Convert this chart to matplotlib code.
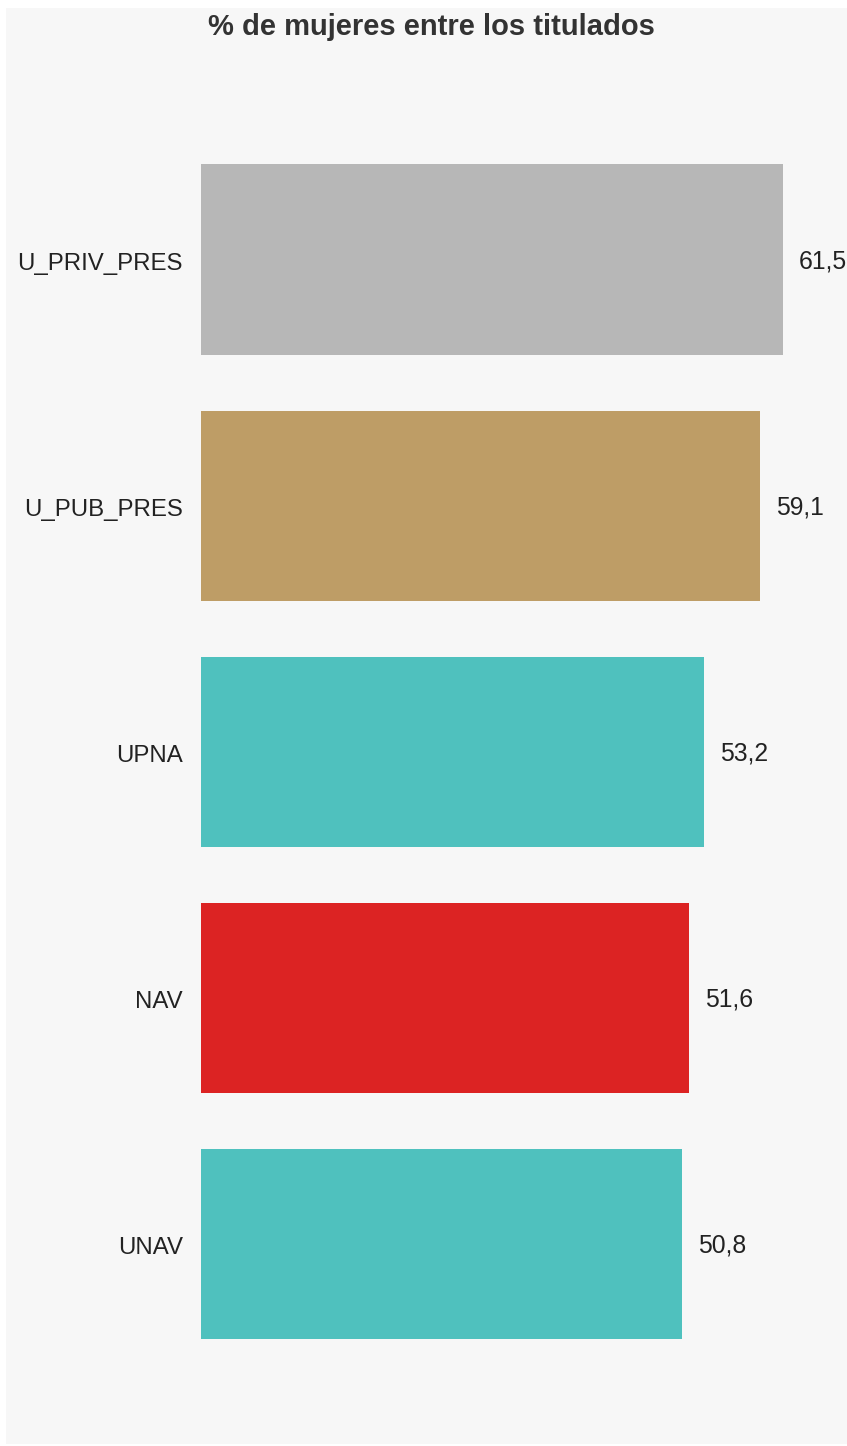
import matplotlib
matplotlib.use("Agg")
import matplotlib.pyplot as plt
from matplotlib.patches import Rectangle
import matplotlib.transforms as mtransforms

categories = ["U_PRIV_PRES", "U_PUB_PRES", "UPNA", "NAV", "UNAV"]
values = [61.5, 59.1, 53.2, 51.6, 50.8]
value_labels = ["61,5", "59,1", "53,2", "51,6", "50,8"]
colors = ["#b7b7b7", "#be9d66", "#4fc1be", "#dc2323", "#4fc1be"]
title = "% de mujeres entre los titulados"

plt.rcParams['font.family'] = ['Liberation Sans', 'DejaVu Sans']

W, H = 847, 1446
fig = plt.figure(figsize=(W / 100, H / 100), dpi=100)
fig.patch.set_facecolor("white")
fig.patches.append(Rectangle((6 / W, 1 - 1444 / H), (W - 6) / W, (1444 - 8) / H,
                             transform=fig.transFigure, facecolor="#f7f7f7",
                             edgecolor="none", zorder=-10))

ax_left, ax_right = 201, 847
ax_top, ax_bot = 136.5, 1366.5
ax = fig.add_axes([ax_left / W, 1 - ax_bot / H, (ax_right - ax_left) / W, (ax_bot - ax_top) / H])
ax.set_facecolor("none")
ax.set_zorder(5)

n = len(categories)
ypos = list(range(n))[::-1]
ax.barh(ypos, values, height=190 / 246, color=colors, edgecolor="none")
ax.set_ylim(-0.5, n - 0.5)
ax.set_xlim(0, (ax_right - ax_left) / ((783 - 201) / 61.5))
ax.set_yticks(ypos)
ax.set_yticklabels(categories, fontsize=17.3, color="#222222")
ax.tick_params(axis="y", length=0, pad=13)
shift = mtransforms.ScaledTranslation(0, -2 / 100, fig.dpi_scale_trans)
for t in ax.get_yticklabels():
    t.set_transform(t.get_transform() + shift)
ax.set_xticks([])
for s in ax.spines.values():
    s.set_visible(False)

for y, v, lab in zip(ypos, values, value_labels):
    ax.annotate(lab, (v, y), xytext=(11.5, -1.5), textcoords="offset points",
                ha="left", va="center", fontsize=17.8, color="#222222")

fig.text(431.5 / W, 1 - 27 / H, title, ha="center", va="center",
         fontsize=21, fontweight="bold", color="#333333", zorder=6)

fig.savefig("out.png", dpi=100)
